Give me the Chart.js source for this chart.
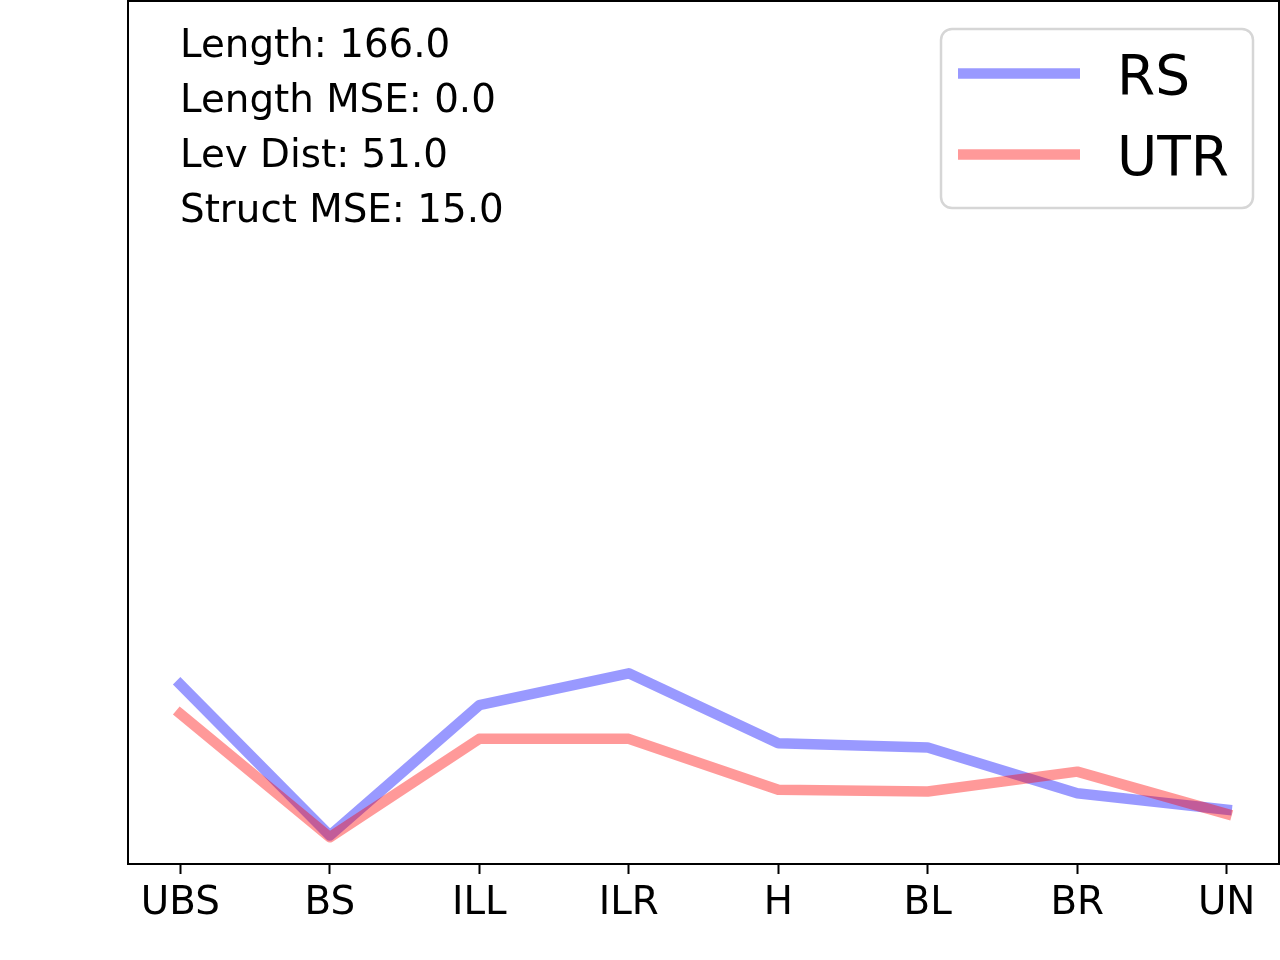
<!DOCTYPE html>
<html>
<head>
<meta charset="utf-8">
<script src="https://cdn.jsdelivr.net/npm/chart.js@4"></script>
<style>
  html, body { margin: 0; padding: 0; background: #ffffff; }
  #wrap { width: 1280px; height: 960px; position: relative; }
</style>
</head>
<body>
<div id="wrap"><canvas id="c" width="1280" height="960"></canvas></div>
<script>
const categories = ['UBS', 'BS', 'ILL', 'ILR', 'H', 'BL', 'BR', 'UN'];
const rsValues = [20.8, 3.3, 18.4, 22.1, 14.0, 13.5, 8.2, 6.3];
const utrValues = [17.4, 3.1, 14.5, 14.5, 8.6, 8.4, 10.7, 5.8];
const seriesNames = ['RS', 'UTR'];
const seriesColors = ['rgba(0,0,255,0.4)', 'rgba(255,0,0,0.4)'];
const statLines = ['Length: 166.0', 'Length MSE: 0.0', 'Lev Dist: 51.0', 'Struct MSE: 15.0'];

const FONT = '"DejaVu Sans", "Liberation Sans", sans-serif';

const framePlugin = {
  id: 'frame',
  afterDraw(chart) {
    const a = chart.chartArea, ctx = chart.ctx;
    ctx.save();
    ctx.strokeStyle = '#000';
    ctx.lineWidth = 2;
    ctx.beginPath();
    ctx.moveTo(a.left, a.top);
    ctx.lineTo(a.right, a.top);
    ctx.lineTo(a.right, a.bottom);
    ctx.stroke();
    ctx.restore();
  }
};

const statsPlugin = {
  id: 'stats',
  afterDraw(chart) {
    const a = chart.chartArea, ctx = chart.ctx;
    ctx.save();
    ctx.fillStyle = '#000';
    ctx.font = '38.8px ' + FONT;
    ctx.textAlign = 'left';
    ctx.textBaseline = 'alphabetic';
    statLines.forEach((t, i) => ctx.fillText(t, a.left + 52, a.top + 55.5 + 55 * i));
    ctx.restore();
  }
};

const legendPlugin = {
  id: 'boxLegend',
  afterDraw(chart) {
    const a = chart.chartArea, ctx = chart.ctx;
    const w = 312, h = 179;
    const x = a.right - 26 - w, y = a.top + 28;
    ctx.save();
    ctx.fillStyle = 'rgba(255,255,255,0.8)';
    ctx.strokeStyle = '#d6d6d6';
    ctx.lineWidth = 2.5;
    ctx.beginPath();
    ctx.roundRect(x, y, w, h, 11);
    ctx.fill();
    ctx.stroke();
    chart.data.datasets.forEach((ds, i) => {
      const cy = y + 44.5 + 81 * i;
      ctx.strokeStyle = ds.borderColor;
      ctx.lineWidth = ds.borderWidth;
      ctx.lineCap = 'butt';
      ctx.beginPath();
      ctx.moveTo(x + 17, cy);
      ctx.lineTo(x + 139, cy);
      ctx.stroke();
      ctx.fillStyle = '#000';
      ctx.font = '55px ' + FONT;
      ctx.textBaseline = 'alphabetic';
      ctx.fillText(ds.label, x + 176, cy + 20);
    });
    ctx.restore();
  }
};

function toPoints(vals) { return vals.map((v, i) => ({ x: i, y: v })); }

new Chart(document.getElementById('c'), {
  type: 'line',
  data: {
    datasets: [
      { label: seriesNames[0], data: toPoints(rsValues), borderColor: seriesColors[0], borderWidth: 10.5,
        pointRadius: 0, borderCapStyle: 'square', borderJoinStyle: 'round', fill: false, order: 1 },
      { label: seriesNames[1], data: toPoints(utrValues), borderColor: seriesColors[1], borderWidth: 10.5,
        pointRadius: 0, borderCapStyle: 'square', borderJoinStyle: 'round', fill: false, order: 0 }
    ]
  },
  options: {
    responsive: false,
    devicePixelRatio: 1,
    animation: false,
    layout: { padding: { left: 128, top: 1, right: 1, bottom: 0 } },
    plugins: { legend: { display: false }, tooltip: { enabled: false } },
    scales: {
      x: {
        type: 'linear',
        min: -0.35,
        max: 7.35,
        afterBuildTicks: s => { s.ticks = categories.map((_, i) => ({ value: i })); },
        afterFit: s => { s.height = 96; },
        ticks: {
          autoSkip: false, maxRotation: 0, minRotation: 0, padding: 7,
          color: '#000', font: { family: FONT, size: 38.8 },
          callback: v => categories[v]
        },
        grid: { display: true, drawOnChartArea: false, drawTicks: true, tickLength: 10, tickWidth: 2, tickColor: '#000' },
        border: { display: true, color: '#000', width: 2 }
      },
      y: {
        min: 0,
        max: 100,
        afterFit: s => { s.width = 0; },
        ticks: { display: false },
        grid: { display: false },
        border: { display: true, color: '#000', width: 2 }
      }
    }
  },
  plugins: [framePlugin, statsPlugin, legendPlugin]
});
</script>
</body>
</html>
